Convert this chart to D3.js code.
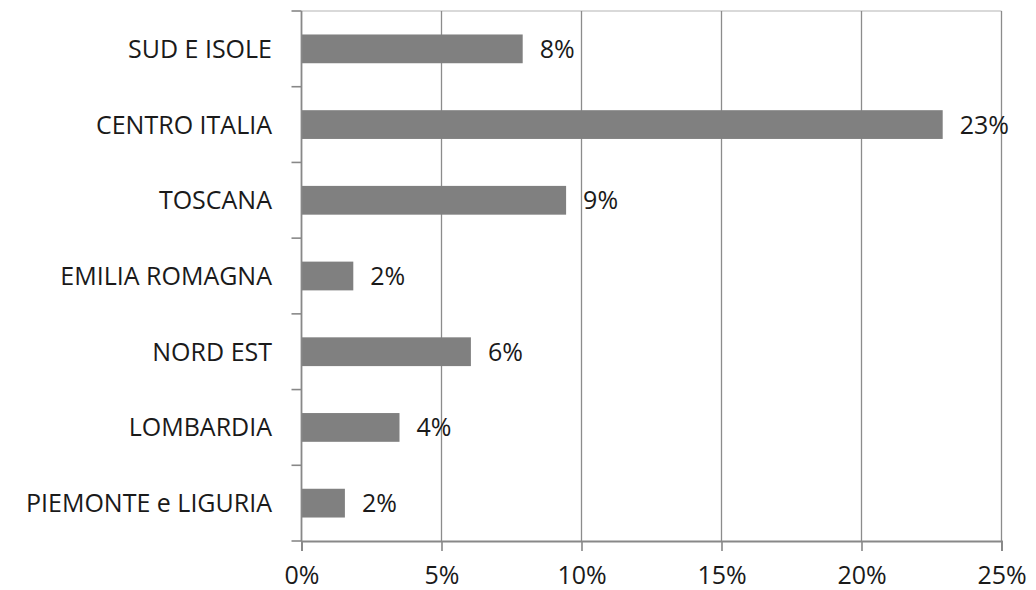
<!DOCTYPE html>
<html><head><meta charset="utf-8">
<script src="https://cdn.jsdelivr.net/npm/d3@7"></script>
<style>body{margin:0;background:#fff;} text{font-family:"Open Sans","Noto Sans",sans-serif;fill:#1a1a1a;}</style>
</head><body>
<svg id="c" width="1036" height="590"></svg>
<script>
const categories = ["SUD E ISOLE","CENTRO ITALIA","TOSCANA","EMILIA ROMAGNA","NORD EST","LOMBARDIA","PIEMONTE e LIGURIA"];
const values = [7.9, 22.9, 9.45, 1.85, 6.05, 3.5, 1.55];
const labels = ["8%","23%","9%","2%","6%","4%","2%"];
const xTicks = [0,5,10,15,20,25];

const FS = 25;
const svg = d3.select("#c");
const L = 301.5, R = 1001.5, T = 11, B = 541;
const x = d3.scaleLinear().domain([0,25]).range([L,R]);
const y = d3.scaleBand().domain(categories).range([T,B]).paddingInner(0.62).paddingOuter(0.31);
const yb = d3.scaleBand().domain(categories).range([T,B]);

// top border line
svg.append("line").attr("x1",L).attr("x2",R).attr("y1",T).attr("y2",T).attr("stroke","#b4b4b4").attr("stroke-width",1.2);
// gridlines
svg.selectAll(".g").data(xTicks.slice(1)).enter().append("line")
  .attr("x1",d=>x(d)).attr("x2",d=>x(d)).attr("y1",T).attr("y2",B)
  .attr("stroke","#8c8c8c").attr("stroke-width",1.3);

// bars
svg.selectAll(".b").data(categories).enter().append("rect")
  .attr("x",L).attr("y",d=>y(d)).attr("width",(d,i)=>x(values[i])-L).attr("height",y.bandwidth())
  .attr("fill","#808080");

// value labels
svg.selectAll(".v").data(categories).enter().append("text")
  .attr("x",(d,i)=>x(values[i])+17).attr("y",d=>y(d)+y.bandwidth()/2).attr("dy","0.36em")
  .attr("font-size",FS).text((d,i)=>labels[i]);

// y axis ticks and line
const tickYs = d3.range(categories.length+1).map(i=>T + i*yb.step());
svg.selectAll(".yt").data(tickYs).enter().append("line")
  .attr("x1",L-10).attr("x2",L).attr("y1",d=>d).attr("y2",d=>d).attr("stroke","#888").attr("stroke-width",1.6);
svg.append("line").attr("x1",L).attr("x2",L).attr("y1",T).attr("y2",B).attr("stroke","#888").attr("stroke-width",1.8);
svg.selectAll(".yl").data(categories).enter().append("text")
  .attr("x",272).attr("y",d=>yb(d)+yb.bandwidth()/2).attr("dy","0.36em").attr("text-anchor","end")
  .attr("font-size",FS).text(d=>d);

// x axis
const xa = d3.axisBottom(x).tickValues(xTicks).tickSize(10).tickFormat(d=>d+"%").tickPadding(15);
const gx = svg.append("g").attr("transform",`translate(0,${B})`).call(xa);
gx.select(".domain").attr("stroke","#888").attr("stroke-width",1.8);
gx.selectAll(".tick line").attr("stroke","#888").attr("stroke-width",1.6);
gx.selectAll(".tick text").attr("font-size",FS).attr("fill","#1a1a1a").attr("font-family","'Open Sans','Noto Sans',sans-serif");
</script>
</body></html>
